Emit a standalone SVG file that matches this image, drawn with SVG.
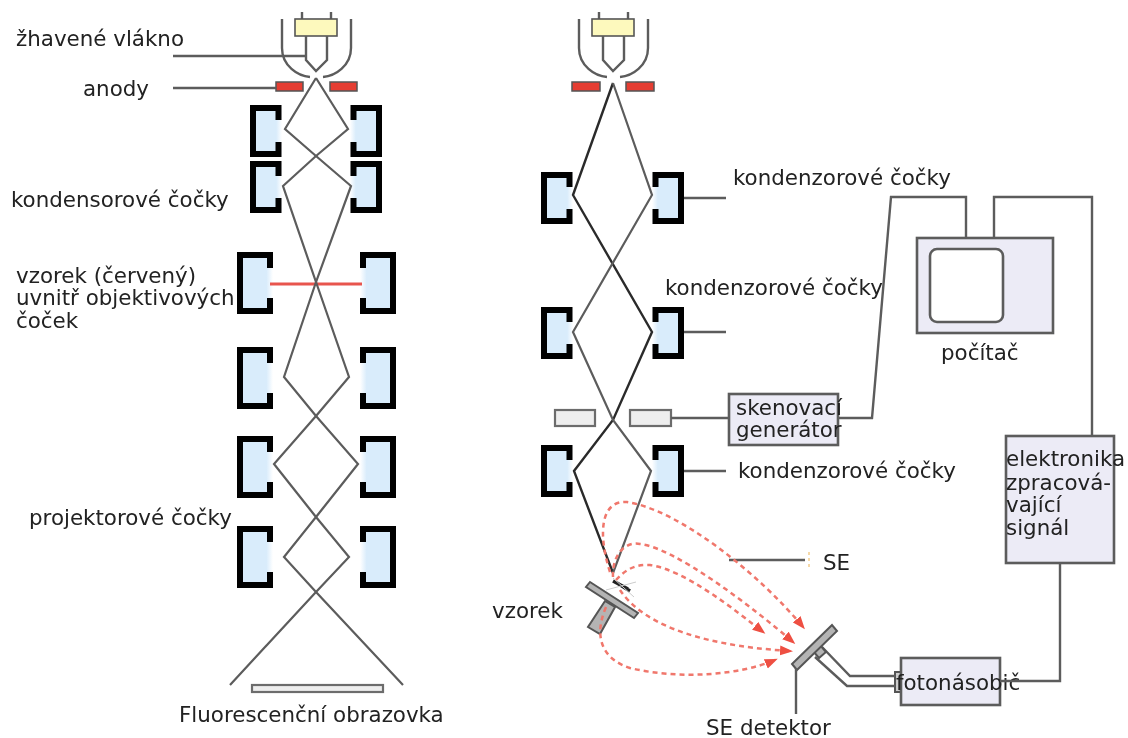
<svg xmlns="http://www.w3.org/2000/svg" width="1128" height="738" viewBox="0 0 1128 738">
<style>
text{font-family:"DejaVu Sans","Liberation Sans",sans-serif;font-size:21.4px;fill:#222}
.ln{fill:none;stroke:#5c5c5c;stroke-width:2.4}
.dk{fill:none;stroke:#2c2c2c;stroke-width:2.4}
.bm{fill:none;stroke:#5c5c5c;stroke-width:2.2}
.box{fill:#ecebf6;stroke:#5c5c5c;stroke-width:2.6}
.an{fill:#e53e30;stroke:#555;stroke-width:1.5}
.yl{fill:#fdf9bd;stroke:#555;stroke-width:1.6}
.dp{fill:#eeeeee;stroke:#6c6c6c;stroke-width:2.2}
.gr{fill:#b4b4b4;stroke:#555;stroke-width:2}
.se{fill:none;stroke:#f0776c;stroke-width:2.5;stroke-dasharray:5 4;marker-end:url(#arr)}
.lb{stroke:#000;stroke-width:6;fill:none}
</style>
<defs>
<linearGradient id="fade"><stop offset="0.8" stop-color="#d9ecfb"/><stop offset="1" stop-color="#fff"/></linearGradient>
<marker id="arr" markerWidth="13" markerHeight="11" refX="10" refY="5" orient="auto" markerUnits="userSpaceOnUse" viewBox="0 0 13 10"><path d="M0 0L13 5L0 10Z" fill="#ee4f42"/></marker>
<filter id="soft" x="0" y="0" width="100%" height="100%"><feGaussianBlur stdDeviation="0.45"/></filter>
<g id="lensS"><rect x="3" y="3" width="29" height="46" fill="url(#fade)"/><path class="lb" d="M28.5 15V3H3V49H28.5V37"/></g>
<g id="lensL"><rect x="3" y="3" width="33" height="56" fill="url(#fade)"/><path class="lb" d="M33 16V3H3V59H33V46"/></g>
<g id="gun"><path class="ln" d="M-34 19V48C-34 66-18 76-6 77"/><path class="ln" d="M35 19V48C35 66 19 76 7 77"/><path class="ln" d="M-14 12V19M15 12V19"/><rect class="yl" x="-21" y="19" width="42" height="17"/><path class="ln" d="M-10 36V60L0 71L11 60V36"/></g>
</defs>
<rect width="1128" height="738" fill="#fff"/>
<g filter="url(#soft)">
<g id="left-gun"><use href="#gun" x="316" y="0"/><rect class="an" x="276" y="82" width="27" height="9"/><rect class="an" x="330" y="82" width="27" height="9"/></g>
<g id="left-lenses">
<use href="#lensS" x="250" y="105"/><use href="#lensS" transform="translate(382,105) scale(-1,1)"/>
<use href="#lensS" x="250" y="161"/><use href="#lensS" transform="translate(382,161) scale(-1,1)"/>
<use href="#lensL" x="237" y="252"/><use href="#lensL" transform="translate(396,252) scale(-1,1)"/>
<use href="#lensL" x="237" y="347"/><use href="#lensL" transform="translate(396,347) scale(-1,1)"/>
<use href="#lensL" x="237" y="436"/><use href="#lensL" transform="translate(396,436) scale(-1,1)"/>
<use href="#lensL" x="237" y="526"/><use href="#lensL" transform="translate(396,526) scale(-1,1)"/>
</g>
<g id="left-specimen"><path d="M270 284H362" stroke="#e8554e" stroke-width="3" fill="none"/></g>
<g id="left-screen"><rect class="dp" x="252" y="685" width="131" height="7"/></g>
<g id="right-gun"><use href="#gun" x="613" y="0"/><rect class="an" x="572" y="82" width="28" height="9"/><rect class="an" x="626" y="82" width="28" height="9"/></g>
<g id="right-lenses">
<use href="#lensS" x="541" y="172"/><use href="#lensS" transform="translate(684,172) scale(-1,1)"/>
<use href="#lensS" x="541" y="307"/><use href="#lensS" transform="translate(684,307) scale(-1,1)"/>
<use href="#lensS" x="541" y="445"/><use href="#lensS" transform="translate(684,445) scale(-1,1)"/>
</g>
<g id="deflectors"><rect class="dp" x="555" y="410" width="40" height="16"/><rect class="dp" x="630" y="410" width="41" height="16"/></g>
<g id="scan-generator"><rect class="box" x="729" y="394" width="109" height="51"/><text x="736" y="415">skenovací</text><text x="736" y="437">generátor</text></g>
<g id="computer"><rect class="box" x="917" y="238" width="136" height="95"/><rect x="930" y="249" width="73" height="73" rx="7" fill="#fff" stroke="#5c5c5c" stroke-width="2.6"/><text x="941" y="360">počítač</text></g>
<g id="signal-electronics"><rect class="box" x="1006" y="436" width="108" height="127"/><text x="1006" y="466">elektronika</text><text x="1006" y="490">zpracová-</text><text x="1006" y="512">vající</text><text x="1006" y="535">signál</text></g>
<g id="photomultiplier"><rect class="gr" x="895" y="672" width="6" height="20" style="fill:#ccc"/><rect class="box" x="901" y="658" width="99" height="47"/><text x="896" y="690">fotonásobič</text></g>
<g id="se-detector"><path class="ln" d="M822 647L850 676H895M815 657L847 686H895"/><path class="gr" d="M813 651L820 645L826 652L819 658Z"/><path class="gr" d="M792 664L832 625L837 631L797 670Z"/><text x="706" y="735">SE detektor</text></g>
<g id="sample"><path class="gr" d="M605 601L615 607L600 634L588 627Z"/><path class="gr" d="M590 582L638 613L634 618L586 587Z"/><path d="M613 581L628 589M617 583L630 591" stroke="#222" stroke-width="3.5" fill="none"/><path d="M606 590L636 582M613 578L634 597" stroke="#ccc" stroke-width="1" fill="none"/><text x="492" y="618">vzorek</text></g>
<g id="connectors">
<path class="bm" d="M316 78L285 129L316 156L351 186L316 282L284 377L316 416L358 464L316 517L284 557L316 592L403 685"/>
<path class="bm" d="M316 78L348 129L316 156L283 186L316 282L349 377L316 416L274 464L316 517L349 557L316 592L230 685"/>
<path class="ln" d="M173 56H306M173 88H276"/>
<path class="dk" d="M613 83L573 195L652 332L613 420L574 471L613 573"/>
<path class="bm" d="M613 83L652 195L573 332L613 420L651 471L613 573"/>
<path class="ln" d="M684 198H726M684 332H726M671 418H729M684 471H726"/>
<path class="ln" d="M838 418H872L891 197H966V238M994 238V197H1092V436M1060 563V681H1000M796 668V714"/>
<path class="ln" d="M729 560H805"/>
<path d="M809 552V568" stroke="#f6d9a8" stroke-width="2" stroke-dasharray="3 3" fill="none"/>
<path class="se" d="M610 572C598 535 600 500 627 502C680 510 760 575 803 627"/>
<path class="se" d="M613 577C612 555 625 541 640 544C675 548 750 605 793 642"/>
<path class="se" d="M616 580C625 570 635 564 650 565C685 570 735 610 763 632"/>
<path class="se" d="M620 590C640 620 690 645 790 651"/>
<path class="se" d="M606 607C592 640 605 660 630 668C680 680 740 675 775 660"/>
</g>
<g id="labels">
<text x="16" y="46">žhavené vlákno</text>
<text x="83" y="96">anody</text>
<text x="11" y="207">kondensorové čočky</text>
<text x="16" y="283">vzorek (červený)</text>
<text x="16" y="305">uvnitř objektivových</text>
<text x="16" y="328">čoček</text>
<text x="29" y="525">projektorové čočky</text>
<text x="179" y="722">Fluorescenční obrazovka</text>
<text x="733" y="185">kondenzorové čočky</text>
<text x="665" y="295">kondenzorové čočky</text>
<text x="738" y="478">kondenzorové čočky</text>
<text x="823" y="570">SE</text>
</g>
</g>
</svg>
